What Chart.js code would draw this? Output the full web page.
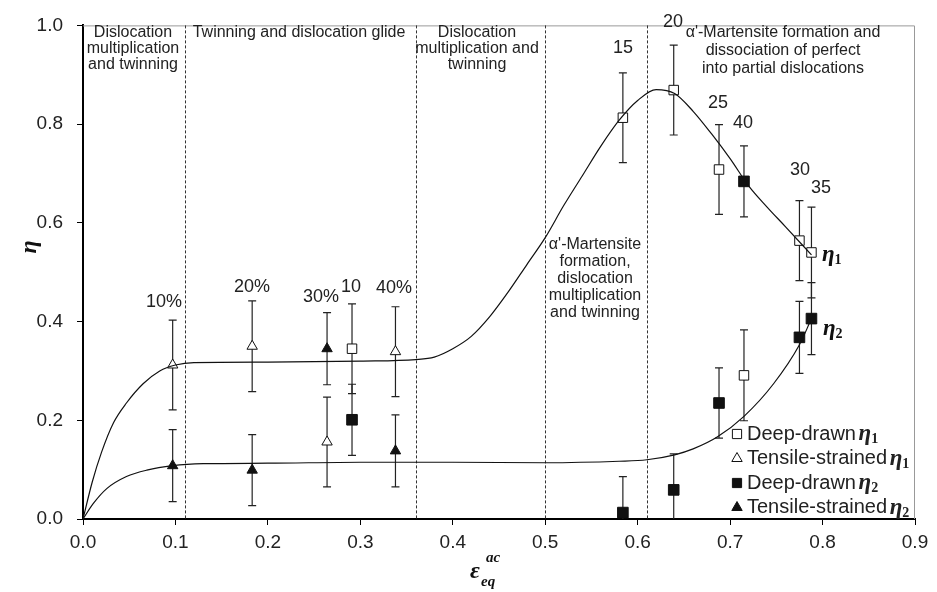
<!DOCTYPE html>
<html>
<head>
<meta charset="utf-8">
<script src="https://cdn.jsdelivr.net/npm/chart.js@4.4.1/dist/chart.umd.min.js"></script>
<style>
  html, body { margin: 0; padding: 0; background: #fff; }
</style>
</head>
<body>
<canvas id="chart" width="937" height="592"></canvas>
<script>
// deep-drawn cups: strain, eta1 / eta2 with error bars, label = drawing step
const deepX = [0.291, 0.584, 0.639, 0.688, 0.775, 0.788, 0.715];
const deepEta1 = [0.345, 0.813, 0.869, 0.708, 0.564, 0.540, 0.291];
const deepEta1Err = [0.091, 0.091, 0.091, 0.091, 0.081, 0.092, 0.092];
const deepEta2 = [0.201, 0.013, 0.059, 0.235, 0.368, 0.406, 0.684];
const deepEta2Err = [0.072, 0.073, 0.073, 0.071, 0.073, 0.073, 0.072];
const deepLabels = ['10', '15', '20', '25', '30', '35', '40'];

// tensile-strained samples
const tensileX = [0.097, 0.183, 0.264, 0.338];
const tensileEta1 = [0.312, 0.350, 0.156, 0.339];
const tensileEta1Err = [0.091, 0.092, 0.091, 0.091];
const tensileEta2 = [0.108, 0.099, 0.345, 0.138];
const tensileEta2Err = [0.073, 0.072, 0.073, 0.073];
const tensileLabels = ['10%', '20%', '30%', '40%'];

// fitted trend curves
const fitEta1X = [0, 0.01, 0.02, 0.033, 0.047, 0.065, 0.083, 0.1, 0.12, 0.2, 0.3, 0.36, 0.38, 0.40, 0.42, 0.44, 0.46, 0.48, 0.50, 0.52, 0.54, 0.56, 0.58, 0.60, 0.62, 0.64, 0.66, 0.68, 0.70, 0.72, 0.74, 0.76, 0.788];
const fitEta1Y = [0, 0.075, 0.135, 0.195, 0.235, 0.274, 0.300, 0.312, 0.317, 0.318, 0.320, 0.323, 0.328, 0.345, 0.370, 0.410, 0.460, 0.515, 0.570, 0.635, 0.695, 0.755, 0.808, 0.848, 0.870, 0.862, 0.826, 0.780, 0.730, 0.675, 0.632, 0.592, 0.535];
const fitEta2X = [0, 0.011, 0.026, 0.047, 0.069, 0.097, 0.13, 0.2, 0.3, 0.4, 0.5, 0.58, 0.61, 0.64, 0.66, 0.686, 0.715, 0.747, 0.775, 0.788];
const fitEta2Y = [0, 0.031, 0.062, 0.086, 0.099, 0.108, 0.112, 0.113, 0.115, 0.115, 0.114, 0.117, 0.120, 0.130, 0.142, 0.166, 0.208, 0.274, 0.353, 0.406];

// regime boundaries and axis ticks
const regionBounds = [0.11, 0.36, 0.5, 0.61];
const xTicks = [0, 0.1, 0.2, 0.3, 0.4, 0.5, 0.6, 0.7, 0.8, 0.9];
const yTicks = [0, 0.2, 0.4, 0.6, 0.8, 1.0];

const pts = (xs, ys) => xs.map((v, i) => ({ x: v, y: ys[i] }));

const SANS = '"Liberation Sans", Arial, sans-serif';
const SERIF = '"Liberation Serif", "Times New Roman", serif';

// eta with subscript, drawn from left x
function drawEta(ctx, x, y, sub, size) {
    ctx.textAlign = 'left';
    ctx.textBaseline = 'alphabetic';
    ctx.font = 'bold italic ' + size + 'px ' + SERIF;
    ctx.fillText('η', x, y);
    const w = ctx.measureText('η').width;
    ctx.font = 'bold ' + Math.round(size * 0.62) + 'px ' + SERIF;
    ctx.fillText(sub, x + w, y + size * 0.15);
}

const overlay = {
    id: 'overlay',
    beforeDatasetsDraw(chart) {
        const { ctx, chartArea: a, scales: { x, y } } = chart;
        ctx.save();
        // thin frame on top and right
        ctx.strokeStyle = '#999';
        ctx.lineWidth = 1;
        ctx.beginPath();
        ctx.moveTo(a.left, a.top + 0.5);
        ctx.lineTo(a.right - 0.5, a.top + 0.5);
        ctx.lineTo(a.right - 0.5, a.bottom);
        ctx.stroke();

        // dashed regime boundaries
        ctx.setLineDash([3, 2]);
        ctx.strokeStyle = '#333';
        regionBounds.forEach(b => {
            const px = Math.round(x.getPixelForValue(b)) + 0.5;
            ctx.beginPath();
            ctx.moveTo(px, a.top);
            ctx.lineTo(px, a.bottom);
            ctx.stroke();
        });
        ctx.setLineDash([]);

        // error bars
        ctx.beginPath();
        ctx.rect(a.left, a.top, a.right - a.left, a.bottom - a.top);
        ctx.clip();
        ctx.strokeStyle = '#222';
        ctx.lineWidth = 1.2;
        const bars = (xs, ys, es) => xs.forEach((v, i) => {
            const px = x.getPixelForValue(v);
            const top = y.getPixelForValue(ys[i] + es[i]);
            const bot = y.getPixelForValue(ys[i] - es[i]);
            ctx.beginPath();
            ctx.moveTo(px, top); ctx.lineTo(px, bot);
            ctx.moveTo(px - 4, top); ctx.lineTo(px + 4, top);
            ctx.moveTo(px - 4, bot); ctx.lineTo(px + 4, bot);
            ctx.stroke();
        });
        bars(deepX, deepEta1, deepEta1Err);
        bars(deepX, deepEta2, deepEta2Err);
        bars(tensileX, tensileEta1, tensileEta1Err);
        bars(tensileX, tensileEta2, tensileEta2Err);
        ctx.restore();
    },
    afterDraw(chart) {
        const { ctx } = chart;
        ctx.save();
        ctx.fillStyle = '#222';
        ctx.textAlign = 'center';
        ctx.textBaseline = 'middle';

        // regime descriptions
        ctx.font = '16px ' + SANS;
        const block = (cx, y0, dy, lines) => lines.forEach((t, i) => ctx.fillText(t, cx, y0 + i * dy));
        block(133, 33, 16, ['Dislocation', 'multiplication', 'and twinning']);
        block(299, 33, 16, ['Twinning and dislocation glide']);
        block(477, 33, 16, ['Dislocation', 'multiplication and', 'twinning']);
        block(783, 33, 18, ['α\'-Martensite formation and', 'dissociation of perfect', 'into partial dislocations']);
        block(595, 245, 17, ['α\'-Martensite', 'formation,', 'dislocation', 'multiplication', 'and twinning']);

        // point labels (same order as deepX / tensileX)
        ctx.font = '18px ' + SANS;
        const deepPos = [[351, 287], [623, 48], [673, 22], [718, 103], [800, 170], [821, 188], [743, 123]];
        deepLabels.forEach((t, i) => ctx.fillText(t, deepPos[i][0], deepPos[i][1]));
        const tenPos = [[164, 302], [252, 287], [321, 297], [394, 288]];
        tensileLabels.forEach((t, i) => ctx.fillText(t, tenPos[i][0], tenPos[i][1]));

        // curve labels
        ctx.fillStyle = '#111';
        drawEta(ctx, 822, 261, '1', 23);
        drawEta(ctx, 823, 335, '2', 23);

        // legend
        const rows = [
            ['Deep-drawn ', '1', 'rect', false],
            ['Tensile-strained ', '1', 'triangle', false],
            ['Deep-drawn ', '2', 'rect', true],
            ['Tensile-strained ', '2', 'triangle', true]
        ];
        rows.forEach((r, i) => {
            const yy = 434 + i * 24.5;
            ctx.lineWidth = 1;
            ctx.strokeStyle = '#111';
            ctx.fillStyle = r[3] ? '#111' : '#fff';
            Chart.helpers.drawPoint(ctx, { pointStyle: r[2], radius: r[2] === 'rect' ? 6.5 : 6, rotation: 0, borderWidth: 1 }, 737, yy);
            ctx.fillStyle = '#222';
            ctx.font = '20px ' + SANS;
            ctx.textAlign = 'left';
            ctx.textBaseline = 'middle';
            ctx.fillText(r[0], 747, yy);
            const w = ctx.measureText(r[0]).width;
            drawEta(ctx, 747 + w - 3, yy + 6, r[1], 23);
        });

        // axis titles
        ctx.fillStyle = '#111';
        ctx.save();
        ctx.translate(30, 247);
        ctx.rotate(-Math.PI / 2);
        ctx.font = 'bold italic 24px ' + SERIF;
        ctx.textAlign = 'center';
        ctx.textBaseline = 'middle';
        ctx.fillText('η', 0, 0);
        ctx.restore();

        ctx.textAlign = 'left';
        ctx.textBaseline = 'alphabetic';
        ctx.font = 'bold italic 24px ' + SERIF;
        ctx.fillText('ε', 470, 578);
        ctx.font = 'bold italic 15px ' + SERIF;
        ctx.fillText('eq', 481, 586);
        ctx.fillText('ac', 486, 562);
        ctx.restore();
    }
};

const lineDs = (xs, ys) => ({
    type: 'line',
    data: pts(xs, ys),
    borderColor: '#111',
    borderWidth: 1.2,
    pointRadius: 0,
    fill: false,
    cubicInterpolationMode: 'monotone'
});

const markerDs = (xs, ys, style, filled, r) => ({
    type: 'scatter',
    data: pts(xs, ys),
    pointStyle: style,
    pointRadius: r,
    pointBorderWidth: 1,
    pointBorderColor: '#111',
    pointBackgroundColor: filled ? '#111' : '#fff',
    showLine: false
});

new Chart(document.getElementById('chart'), {
    type: 'scatter',
    data: {
        datasets: [
            lineDs(fitEta1X, fitEta1Y),
            lineDs(fitEta2X, fitEta2Y),
            markerDs(deepX, deepEta1, 'rect', false, 6.7),
            markerDs(tensileX, tensileEta1, 'triangle', false, 6),
            markerDs(deepX, deepEta2, 'rect', true, 7.5),
            markerDs(tensileX, tensileEta2, 'triangle', true, 6)
        ]
    },
    options: {
        responsive: false,
        devicePixelRatio: 1,
        animation: false,
        layout: { padding: { top: 12, right: 22, left: 0, bottom: 0 } },
        plugins: { legend: { display: false }, tooltip: { enabled: false } },
        scales: {
            x: {
                type: 'linear', min: 0, max: 0.9,
                afterFit: s => { s.height = 73; },
                afterBuildTicks: s => { s.ticks = xTicks.map(v => ({ value: v })); },
                border: { color: '#000', width: 2 },
                grid: { drawOnChartArea: false, drawTicks: true, tickLength: 6, color: '#000' },
                ticks: { color: '#222', padding: 6, font: { family: SANS, size: 19 }, callback: v => v.toFixed(1) }
            },
            y: {
                type: 'linear', min: 0, max: 1.0,
                afterFit: s => { s.width = 83; },
                afterBuildTicks: s => { s.ticks = yTicks.map(v => ({ value: v })); },
                border: { color: '#000', width: 2 },
                grid: { drawOnChartArea: false, drawTicks: true, tickLength: 6, color: '#000' },
                ticks: { color: '#222', padding: 14, font: { family: SANS, size: 19 }, callback: v => v.toFixed(1) }
            }
        }
    },
    plugins: [overlay]
});
</script>
</body>
</html>
